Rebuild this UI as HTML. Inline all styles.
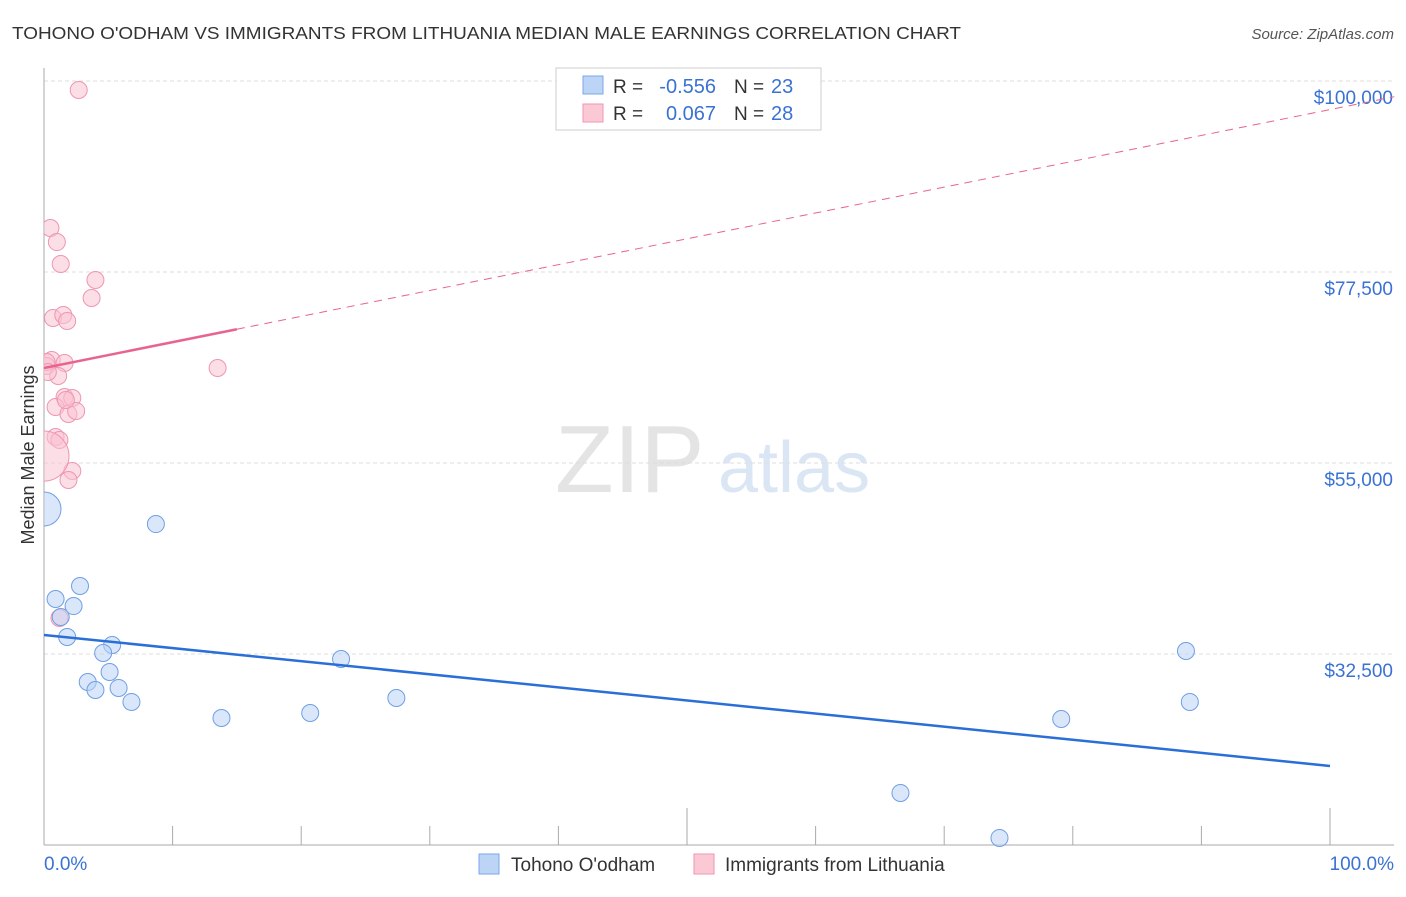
<!DOCTYPE html>
<html><head><meta charset="utf-8"><style>
body{margin:0;background:#fff;font-family:"Liberation Sans",sans-serif;}
svg text{font-family:"Liberation Sans",sans-serif;}
</style></head><body>
<svg width="1406" height="892" viewBox="0 0 1406 892">
<defs><clipPath id="plotclip"><rect x="44" y="60" width="1360" height="790"/></clipPath></defs>
<text x="12" y="39" font-size="17.5" fill="#333" textLength="949" lengthAdjust="spacingAndGlyphs">TOHONO O'ODHAM VS IMMIGRANTS FROM LITHUANIA MEDIAN MALE EARNINGS CORRELATION CHART</text>
<text x="1394" y="39" font-size="15" fill="#555" font-style="italic" text-anchor="end">Source: ZipAtlas.com</text>
<text x="555" y="492" font-size="96" fill="#e4e4e4" font-family="Liberation Serif">ZIP</text>
<text x="718" y="492" font-size="72" fill="#dbe6f5">atlas</text>
<g id="grid"></g>
<g id="axes"></g>
<g id="marks" clip-path="url(#plotclip)"></g>
<text transform="translate(34,455) rotate(-90)" font-size="18" fill="#333" text-anchor="middle">Median Male Earnings</text>
<text x="44" y="870" font-size="19" fill="#3a72d4">0.0%</text>
<text x="1394" y="870" font-size="19" fill="#3a72d4" text-anchor="end">100.0%</text>
<g>
<rect x="556" y="68" width="265" height="62" fill="#fff" stroke="#ccc"/>
<rect x="583" y="76" width="20" height="18" fill="#bcd4f6" stroke="#7aa7e8"/>
<rect x="583" y="104" width="20" height="18" fill="#fbc9d6" stroke="#f095b0"/>
<text x="613" y="93" font-size="19" fill="#333">R =</text>
<text x="716" y="93" font-size="20" fill="#3a72d4" text-anchor="end">-0.556</text>
<text x="734" y="93" font-size="19" fill="#333">N =</text>
<text x="771" y="93" font-size="20" fill="#3a72d4">23</text>
<text x="613" y="120" font-size="19" fill="#333">R =</text>
<text x="716" y="120" font-size="20" fill="#3a72d4" text-anchor="end">0.067</text>
<text x="734" y="120" font-size="19" fill="#333">N =</text>
<text x="771" y="120" font-size="20" fill="#3a72d4">28</text>
</g>
<g><rect x="479" y="854" width="20" height="20" fill="#bcd4f6" stroke="#7aa7e8"/><text x="511" y="871" font-size="19" fill="#333">Tohono O'odham</text></g>
<g><rect x="694" y="854" width="20" height="20" fill="#fbc9d6" stroke="#f095b0"/><text x="725" y="871" font-size="19" fill="#333">Immigrants from Lithuania</text></g>
</svg>
<script>
const yTicks=[32500,55000,77500,100000];
const yTickLabels=["$32,500","$55,000","$77,500","$100,000"];
const pinkX=[2.7,0.5,1.0,1.3,4.0,3.7,0.7,1.5,1.8,0.6,0.2,1.6,1.1,13.5,1.6,2.2,0.9,1.9,2.5,0.9,1.2,2.2,1.9,0,1.2,0.2,0.3,1.7];
const pinkY=[98940,82680,81030,78440,76560,74440,72080,72430,71730,67130,66430,66780,65250,66190,62770,62660,61600,60770,61130,58060,57710,54060,53000,55820,36740,66900,65720,62420];
const blueX=[0,8.7,0.9,2.8,2.3,1.3,1.8,5.3,4.6,5.1,3.4,4.0,5.8,6.8,13.8,20.7,23.1,27.4,66.6,74.3,79.1,88.8,89.1];
const blueY=[49580,47810,38980,40510,38150,36860,34500,33560,32620,30380,29200,28260,28500,26850,24960,25550,31910,27320,16130,10830,24840,32850,26850];
const blueTrend=[34740,19310];
const pinkTrend=[66190,96630];
const NS="http://www.w3.org/2000/svg";
const xs=p=>44+p/100*1286;
const ys=v=>463-(v-55000)/22500*191;
function mk(t,a,parent){const e=document.createElementNS(NS,t);for(const k in a)e.setAttribute(k,a[k]);document.getElementById(parent).appendChild(e);return e;}
yTicks.forEach((v,i)=>{
 const l=mk('line',{x1:44,x2:1394,y1:ys(v),y2:ys(v),stroke:'#ddd','stroke-dasharray':'4,3'},'grid');
 
 
 const t=mk('text',{x:1393,y:ys(v)+23,'font-size':19,fill:'#3a72d4','text-anchor':'end'},'axes');
 t.textContent=yTickLabels[i];
 
 
});
const ax=mk('line',{x1:44,x2:44,y1:68,y2:845,stroke:'#aaa'},'axes');


const bx=mk('line',{x1:44,x2:1394,y1:845,y2:845,stroke:'#aaa'},'axes');


for(let i=0;i<=10;i++){const t=mk('line',{x1:xs(i*10),x2:xs(i*10),y1:(i%5==0?808:826),y2:845,stroke:'#aaa'},'axes');
 
 }
function dot(x,y,fill,stroke,r,name){const c=mk('circle',{cx:xs(x),cy:ys(y),r:r,fill:fill,stroke:stroke,'fill-opacity':0.55},'marks');
 
 }
pinkX.forEach((x,i)=>dot(x,pinkY[i],'#f9c3d2','#ee96b0',i==23?25:8.5,'lithuania-point'));
blueX.forEach((x,i)=>dot(x,blueY[i],'#bcd4f6','#6f9fe4',i==0?17:8.5,'tohono-point'));
const bl=mk('line',{x1:xs(0),y1:ys(blueTrend[0]),x2:xs(100),y2:ys(blueTrend[1]),stroke:'#2a6fd8','stroke-width':2.5},'marks');


const pk=(p)=>pinkTrend[0]+(pinkTrend[1]-pinkTrend[0])*p/100;
const pl=mk('line',{x1:xs(0),y1:ys(pk(0)),x2:xs(15),y2:ys(pk(15)),stroke:'#e8648e','stroke-width':2.5},'marks');


const pd=mk('line',{x1:xs(15),y1:ys(pk(15)),x2:xs(105),y2:ys(pk(105)),stroke:'#e8648e','stroke-width':1,'stroke-dasharray':'8,6'},'marks');


</script>
</body></html>
